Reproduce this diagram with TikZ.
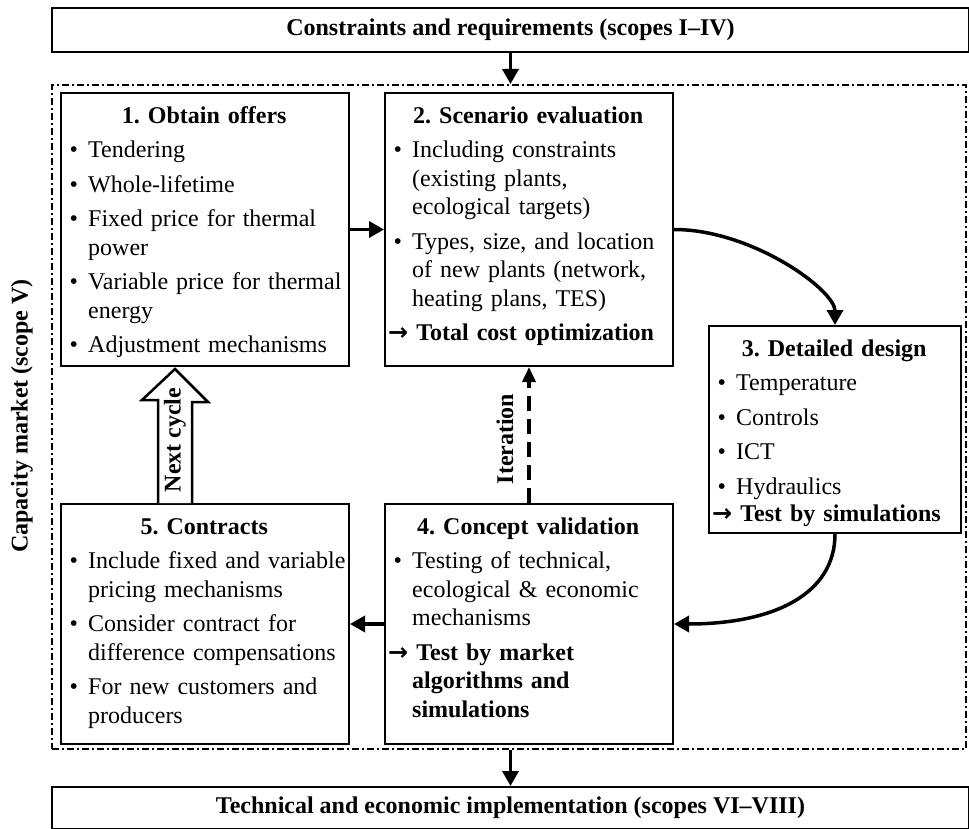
\documentclass[tikz,border=0pt]{standalone}
\usepackage{fontspec}
\setmainfont{Liberation Serif}
\newfontfamily\arrowfont{DejaVu Sans}
\usetikzlibrary{arrows.meta,calc}

% Heading, bullet point and result line of a stage box
\newcommand\stagehead[1]{{\centering\bfseries\rule{0pt}{18pt}#1\par}}
\newcommand\stagepoint[1]{\par\noindent\rightskip=-16pt plus 1fil\hyphenpenalty=10000
  \hangindent=20pt\hangafter=1\makebox[20pt][l]{\hspace{1.5pt}\textbullet}#1\par}
\newcommand\stageresult[1]{\par\noindent\rightskip=-16pt plus 1fil\hyphenpenalty=10000
  \hangindent=20pt\hangafter=1{\bfseries\hspace*{-4pt}{\arrowfont\bfseries →}\ #1}\par}

\begin{document}
\frenchspacing
\begin{tikzpicture}[x=1pt,y=-1pt,
  stage/.style={draw, line width=2pt, inner sep=0pt, anchor=north west},
  stagetext/.style={anchor=north west, inner sep=0pt, align=left,
    font=\fontsize{24}{28.5}\selectfont},
  banner/.style={draw, line width=2pt, inner sep=0pt, anchor=north west,
    font=\fontsize{24}{28}\selectfont\bfseries},
  region/.style={draw, line width=2pt, dash pattern=on 7pt off 3pt on 2pt off 3pt,
    inner sep=0pt, anchor=north west},
  flow/.style={line width=3.5pt, -{Triangle[length=15pt,width=16pt]}},
  loopback/.style={line width=3.5pt, dash pattern=on 15pt off 8pt,
    -{Triangle[length=15pt,width=13pt]}},
  sidelabel/.style={rotate=90, inner sep=0pt, font=\fontsize{24}{28}\selectfont\bfseries},
  hollow/.style={draw, line width=2.5pt, line join=miter, fill=white}
]
\useasboundingbox (0,0) rectangle (969,829);
\fill[white] (0,0) rectangle (969,829);

% outer frames
\node[banner, minimum width=917pt, minimum height=44pt] (top) at (51,7)
  {Constraints and requirements (scopes I–IV)};
\node[region, minimum width=914pt, minimum height=664pt] (market) at (51,84) {};
\node[banner, minimum width=917pt, minimum height=42pt] (impl) at (51,786)
  {Technical and economic implementation (scopes VI–VIII)};

% stage boxes
\node[stage, minimum width=288pt, minimum height=273pt] (b1) at (60,92) {};
\node[stage, minimum width=288pt, minimum height=273pt] (b2) at (384,92) {};
\node[stage, minimum width=252pt, minimum height=207pt] (b3) at (708,325) {};
\node[stage, minimum width=288pt, minimum height=240pt] (b4) at (384,503) {};
\node[stage, minimum width=288pt, minimum height=240pt] (b5) at (60,503) {};

% stage contents
\node[stagetext, text width=272pt] (t1) at ($(b1.north west)+(8,13)$) {\setlength\parskip{6pt}%
  \stagehead{1. Obtain offers}
  \stagepoint{Tendering}
  \stagepoint{Whole-lifetime}
  \stagepoint{Fixed price for thermal\newline power}
  \stagepoint{Variable price for thermal\newline energy}
  \stagepoint{Adjustment mechanisms}};

\node[stagetext, text width=272pt] (t2) at ($(b2.north west)+(8,13)$) {\setlength\parskip{6pt}%
  \stagehead{2. Scenario evaluation}
  \stagepoint{Including constraints\newline (existing plants,\newline ecological targets)}
  \stagepoint{Types, size, and location\newline of new plants (network,\newline heating plans, TES)}
  \stageresult{Total cost optimization}};

\node[stagetext, text width=236pt] (t3) at ($(b3.north west)+(8,13)$) {\setlength\parskip{6pt}%
  \stagehead{3. Detailed design}
  \stagepoint{Temperature}
  \stagepoint{Controls}
  \stagepoint{ICT}
  \stagepoint{Hydraulics}
  \vspace{-7.5pt}
  \stageresult{Test by simulations}};

\node[stagetext, text width=272pt] (t4) at ($(b4.north west)+(8,13)$) {\setlength\parskip{6pt}%
  \stagehead{4. Concept validation}
  \stagepoint{Testing of technical,\newline ecological \& economic\newline mechanisms}
  \stageresult{Test by market\newline algorithms and\newline simulations}};

\node[stagetext, text width=272pt] (t5) at ($(b5.north west)+(8,13)$) {\setlength\parskip{6pt}%
  \stagehead{5. Contracts}
  \stagepoint{Include fixed and variable\newline pricing mechanisms}
  \stagepoint{Consider contract for\newline difference compensations}
  \stagepoint{For new customers and\newline producers}};

% side label
\node[sidelabel] (marketlabel) at (22,416) {Capacity market (scope V)};

% connectors
\draw[flow] (top.south) -- (market.north -| top.south);
\draw[flow] (market.south -| impl.north) -- (impl.north);
\draw[flow] (b1.east) -- (b2.west);
\draw[flow] (b2.east) .. controls +(78,0) and +(0,-35) .. (b3.north);
\draw[flow] (b3.south) .. controls +(0,60) and +(100,0) .. (b4.east);
\draw[flow] (b4.west) -- (b5.east);
\draw[loopback] (b4.north) -- (b2.south);
\node[sidelabel] (iterlabel) at (505,439) {Iteration};

% hollow arrow back to the first stage
\draw[hollow] ($(b5.north west)+(98,0)$) -- ++(0,-103) -- ++(-16,0)
  -- ($(b1.south west)+(115,2)$) -- ++(33,33) -- ++(-16,0)
  -- ($(b5.north west)+(132,0)$);
\node[sidelabel] (cyclelabel) at (175,440) {Next cycle};
\end{tikzpicture}
\end{document}
